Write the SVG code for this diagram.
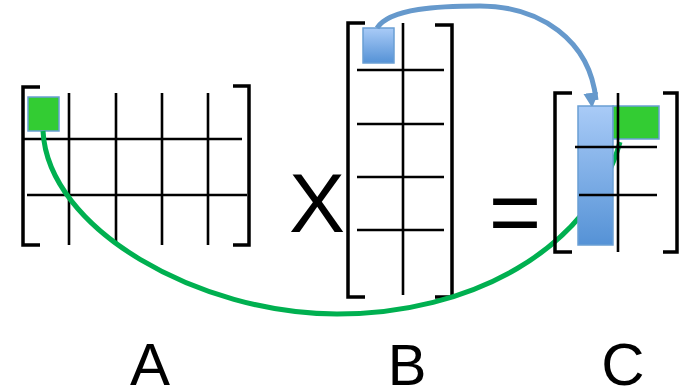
<svg xmlns="http://www.w3.org/2000/svg" width="681" height="391" viewBox="0 0 681 391">
<style>
.grid{stroke:#000;stroke-width:2.6;fill:none}
.br{stroke:#000;stroke-width:3.5;fill:none}
.lbl{font-family:"Liberation Sans",Arial,sans-serif;fill:#000;text-anchor:middle}
.green{fill:#33cc33;stroke:#6a9fd4;stroke-width:1.5}
.blue{fill:url(#bg);stroke:#6a9fd4;stroke-width:1.5}
</style>
<defs>
<linearGradient id="bg" x1="0" y1="0" x2="0" y2="1">
<stop offset="0" stop-color="#a9cbf7"/>
<stop offset="1" stop-color="#5592d6"/>
</linearGradient>
<marker id="ah" viewBox="0 0 10 10" refX="5" refY="2" markerWidth="3" markerHeight="3" orient="auto" markerUnits="strokeWidth">
<path d="M0,0 L10,0 L5,10 Z" fill="#6699cc" transform="rotate(-90 5 5)"/>
</marker>
</defs>
<g id="matrixA">
<path class="br" d="M40,87 H23 V245 H40"/>
<path class="br" d="M233,86 H249 V245 H233"/>
<path class="grid" d="M69,93 V245 M116,93 V245 M162,93 V245 M208,93 V245 M22,139 H242 M27,195 H247"/>
<rect class="green" x="28" y="97" width="31" height="34"/>
</g>
<g id="times"><text class="lbl" x="317" y="232" font-size="84">X</text></g>
<g id="matrixB">
<path class="br" d="M365,23 H348 V297 H365"/>
<path class="br" d="M435,25 H452 V297 H435"/>
<path class="grid" d="M403,23 V295 M357,70 H444 M357,124 H444 M357,177 H444 M357,230 H444"/>
<rect class="blue" x="363" y="28" width="31" height="35"/>
</g>
<g id="equals"><text class="lbl" x="515" y="243" font-size="90">=</text></g>
<g id="connectors">
<path d="M43,131 C48,230 200,314 337,314 C470,314 590,250 620,142" fill="none" stroke="#00b050" stroke-width="5"/>
<path d="M377,28 C390,8 440,6 480,6 C540,6 590,40 596,100" fill="none" stroke="#6699cc" stroke-width="5" marker-end="url(#ah)"/>
</g>
<g id="matrixC">
<path class="br" d="M572,93 H555 V252 H572"/>
<path class="br" d="M663,93 H677 V252 H663"/>
<rect class="blue" x="578" y="106" width="35" height="139"/>
<rect class="green" x="613" y="106" width="46" height="33"/>
<path class="grid" d="M618,93 V252 M575,147 H657 M579,195 H657"/>
</g>
<g id="labels">
<text class="lbl" x="150" y="385" font-size="60">A</text>
<text class="lbl" x="407" y="385" font-size="58">B</text>
<text class="lbl" x="623" y="385" font-size="60">C</text>
</g>
</svg>
